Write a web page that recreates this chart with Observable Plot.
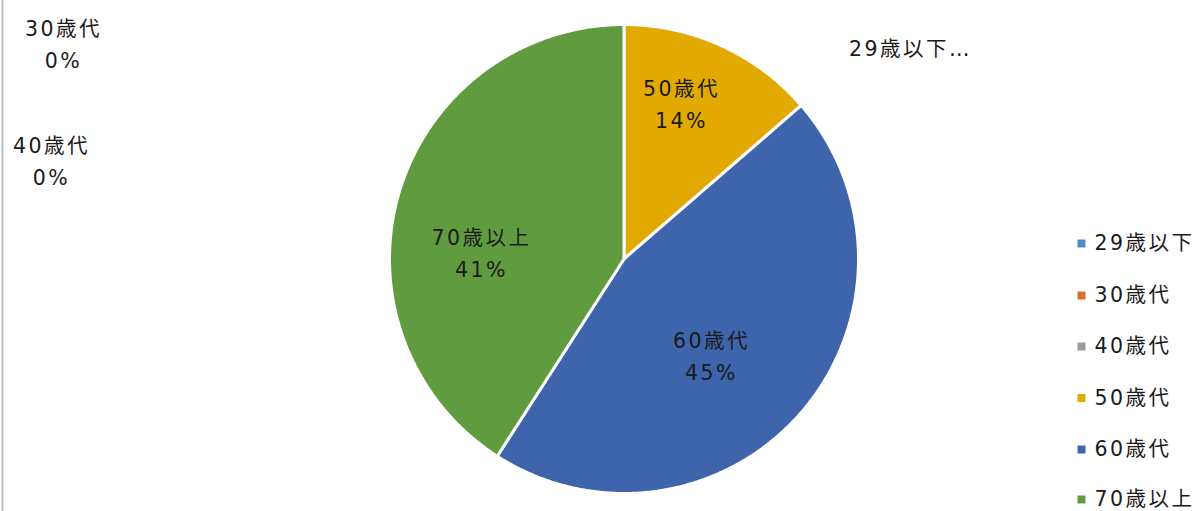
<!DOCTYPE html>
<html>
<head>
<meta charset="utf-8">
<script src="https://cdn.jsdelivr.net/npm/d3@7"></script>
<script src="https://cdn.jsdelivr.net/npm/@observablehq/plot@0.6"></script>
<style>
  html, body { margin: 0; padding: 0; background: #fff; }
  #chart svg { display: block; }
  #chart svg text { letter-spacing: 2.5px; }
</style>
</head>
<body>
<div id="chart"></div>
<script>
// ---- data ----
const categories = ["29歳以下", "30歳代", "40歳代", "50歳代", "60歳代", "70歳以上"];
const counts = [0, 0, 0, 3, 10, 9];
const colors = ["#4F8BC8", "#D96B2C", "#9B9B9B", "#E2AA00", "#3E64AC", "#619B3F"];

// ---- layout (pixels) ----
const W = 1199, H = 511;
const cx = 623.5, cy = 258.5, R = 234.5;
const toX = px => (px - cx) / R;
const toY = py => (cy - py) / R;
// data label anchor (pixel centre of label block)
const labelPx = [[910, 45], [63, 41], [51, 158], [681, 101], [711, 353], [481, 250]];
const legendX = 1081, legendTextX = 1094;
const legendRowsPx = [243, 295, 346, 397.5, 449, 499];
const fontFamily = "'DejaVu Sans', 'Noto Sans CJK JP', sans-serif";

// ---- derived ----
const total = d3.sum(counts);
const rows = categories.map((c, i) => ({category: c, count: counts[i], pct: counts[i] / total}));
const arcs = d3.pie().sort(null).value(d => d.count)(rows);

const slicePts = [];
for (const a of arcs) {
  if (a.data.count <= 0) continue;
  const n = Math.max(2, Math.ceil((a.endAngle - a.startAngle) / (Math.PI / 360)));
  slicePts.push({category: a.data.category, X: 0, Y: 0});
  for (let k = 0; k <= n; k++) {
    const t = a.startAngle + (a.endAngle - a.startAngle) * k / n;
    slicePts.push({category: a.data.category, X: Math.sin(t), Y: Math.cos(t)});
  }
  slicePts.push({category: a.data.category, X: 0, Y: 0});
}

const labels = rows.map((d, i) => ({
  text: i === 0 ? d.category + "…" : d.category + "\n" + Math.round(d.pct * 100) + "%",
  X: toX(labelPx[i][0]),
  Y: toY(labelPx[i][1])
}));

const legend = categories.map((c, i) => ({category: c, X: toX(legendX), TX: toX(legendTextX), Y: toY(legendRowsPx[i])}));

const chart = Plot.plot({
  width: W,
  height: H,
  margin: 0,
  style: {background: "#fff", fontFamily},
  x: {domain: [toX(0), toX(W)], axis: null},
  y: {domain: [toY(H), toY(0)], axis: null},
  color: {domain: categories, range: colors},
  marks: [
    Plot.frame({anchor: "left", stroke: "#bdbdbd", strokeWidth: 2, dx: 2}),
    Plot.line(slicePts, {x: "X", y: "Y", z: "category", fill: "category", stroke: "#fff", strokeWidth: 3, strokeLinejoin: "round", curve: "linear"}),
    Plot.text(labels, {x: "X", y: "Y", text: "text", fontSize: 20.5, lineHeight: 1.55, fill: "#1a1a1a", textAnchor: "middle", lineAnchor: "middle"}),
    Plot.dot(legend, {x: "X", y: "Y", symbol: "square", r: 4.5, fill: "category", stroke: "none"}),
    Plot.text(legend, {x: "TX", y: "Y", text: "category", fontSize: 20.5, fill: "#1a1a1a", textAnchor: "start"})
  ]
});
document.getElementById("chart").appendChild(chart);
</script>
</body>
</html>
